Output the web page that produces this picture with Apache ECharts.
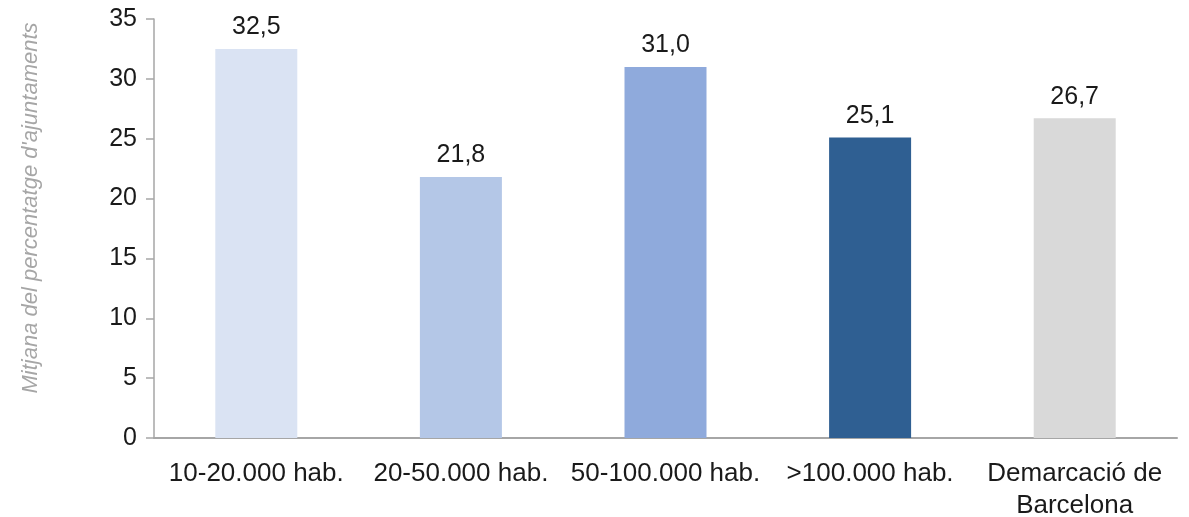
<!DOCTYPE html>
<html>
<head>
<meta charset="utf-8">
<script src="https://cdn.jsdelivr.net/npm/echarts@6/dist/echarts.min.js"></script>
<style>
  html, body { margin: 0; padding: 0; background: #fff; }
  #chart { width: 1189px; height: 517px; }
</style>
</head>
<body>
<div id="chart"></div>
<script>
// dades
var categories = ['10-20.000 hab.', '20-50.000 hab.', '50-100.000 hab.', '>100.000 hab.', 'Demarcació de\nBarcelona'];
var values = [32.5, 21.8, 31.0, 25.1, 26.7];
var barColors = ['#dae3f3', '#b4c7e7', '#8faadc', '#2f5f92', '#d9d9d9'];
var yTicks = [0, 5, 10, 15, 20, 25, 30, 35];
var yName = "Mitjana del percentatge d'ajuntaments";

var font = 'Liberation Sans';
var chart = echarts.init(document.getElementById('chart'));

var option = {
  animation: false,
  grid: { left: 154, right: 12, top: 19, bottom: 79, containLabel: false, outerBoundsMode: 'none' },
  xAxis: {
    type: 'category',
    data: categories,
    axisLine: { lineStyle: { color: '#a6a6a6', width: 2 } },
    axisTick: { show: false },
    axisLabel: {
      interval: 0,
      margin: 20,
      color: '#1a1a1a',
      fontFamily: font,
      fontSize: 26,
      lineHeight: 32
    }
  },
  yAxis: {
    type: 'value',
    min: yTicks[0],
    max: yTicks[yTicks.length - 1],
    interval: 5,
    axisLine: { show: true, lineStyle: { color: '#a6a6a6', width: 1.5 } },
    axisTick: { show: true, length: 8, lineStyle: { color: '#a6a6a6', width: 1.5 } },
    splitLine: { show: false },
    axisLabel: {
      margin: 17,
      color: '#1a1a1a',
      fontFamily: font,
      fontSize: 25
    }
  },
  graphic: [{
    type: 'text',
    x: 31,
    y: 208,
    rotation: Math.PI / 2,
    style: {
      text: yName,
      fill: '#a6a6a6',
      fontFamily: font,
      fontStyle: 'italic',
      fontSize: 22,
      textAlign: 'center',
      textVerticalAlign: 'middle'
    }
  }],
  series: [{
    type: 'bar',
    barWidth: 82,
    data: values.map(function (v, i) {
      return { value: v, itemStyle: { color: barColors[i] } };
    }),
    label: {
      show: true,
      position: 'top',
      distance: 9,
      color: '#1a1a1a',
      fontFamily: font,
      fontSize: 25,
      formatter: function (p) { return p.value.toFixed(1).replace('.', ','); }
    }
  }]
};

chart.setOption(option);
</script>
</body>
</html>
